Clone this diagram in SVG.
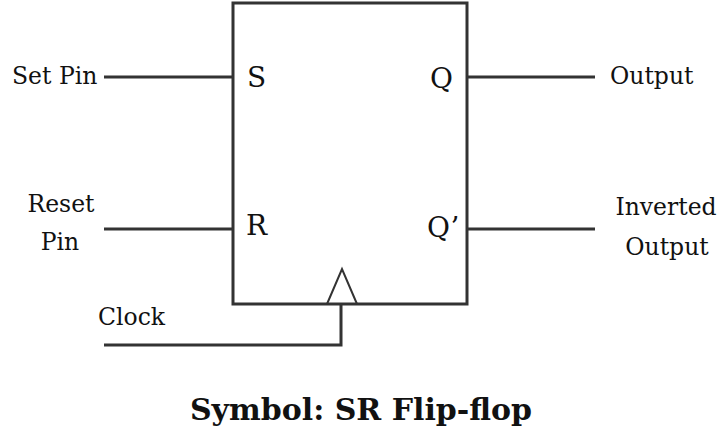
<svg xmlns="http://www.w3.org/2000/svg" width="724" height="440" viewBox="0 0 724 440">
<style>
.ln{stroke:#333;stroke-width:3;fill:none}
.t{font-family:"DejaVu Serif","Liberation Serif",serif;font-size:23.5px;fill:#111}
.p{font-family:"DejaVu Serif","Liberation Serif",serif;font-size:28px;fill:#111}
.ttl{font-family:"DejaVu Serif","Liberation Serif",serif;font-size:30px;font-weight:bold;fill:#111}
</style>
<rect width="724" height="440" fill="#fff"/>
<g id="flipflop">
<rect class="ln" x="233" y="3" width="234" height="301"/>
<polyline class="ln" points="327,304 342,269 357,304" style="stroke-width:2"/>
<text class="p" x="247" y="87">S</text>
<text class="p" x="246" y="235">R</text>
<text class="p" x="430" y="88">Q</text>
<text class="p" x="427" y="237">Q’</text>
</g>
<g id="labels">
<text class="t" x="12" y="84">Set Pin</text>
<text class="t" x="61" y="212" text-anchor="middle">Reset</text>
<text class="t" x="60" y="250" text-anchor="middle">Pin</text>
<text class="t" x="98" y="325">Clock</text>
<text class="t" x="610" y="84">Output</text>
<text class="t" x="666" y="215" text-anchor="middle">Inverted</text>
<text class="t" x="667" y="255" text-anchor="middle">Output</text>
</g>
<g id="connectors">
<line class="ln" x1="104" y1="77" x2="233" y2="77"/>
<line class="ln" x1="104" y1="229" x2="233" y2="229"/>
<polyline class="ln" points="104,345 341,345 341,304"/>
<line class="ln" x1="467" y1="77" x2="595" y2="77"/>
<line class="ln" x1="467" y1="229" x2="595" y2="229"/>
</g>
<text class="ttl" x="361" y="420" text-anchor="middle">Symbol: SR Flip-flop</text>
</svg>
